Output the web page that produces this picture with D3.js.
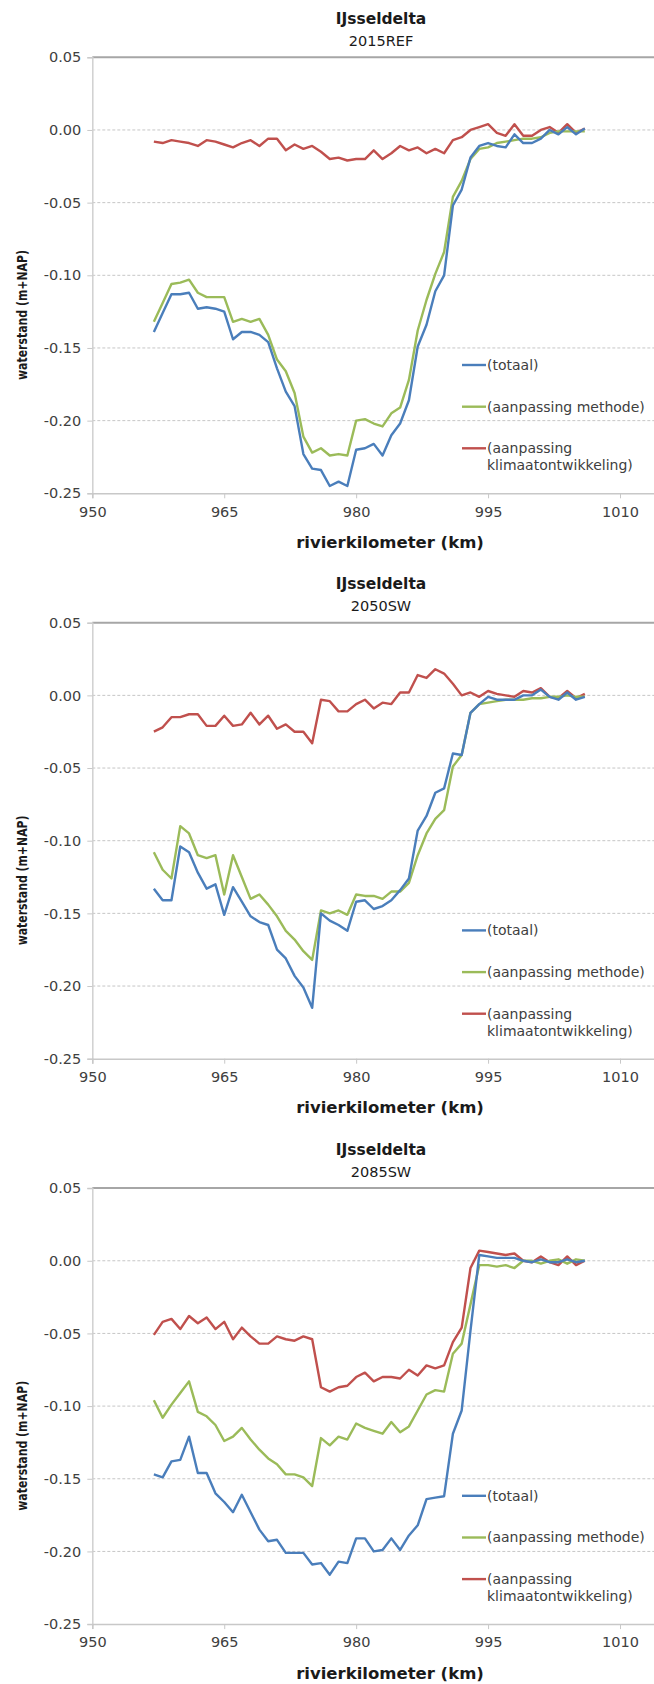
<!DOCTYPE html>
<html>
<head>
<meta charset="utf-8">
<script src="https://cdn.jsdelivr.net/npm/d3@7/dist/d3.min.js"></script>
<style>
  html, body { margin: 0; padding: 0; background: #fff; }
  svg { display: block; font-family: "DejaVu Sans", Verdana, sans-serif; }
</style>
</head>
<body>
<svg id="chart" width="654" height="1684"></svg>
<script>
// River kilometres of the computation points
const km = [957, 958, 959, 960, 961, 962, 963, 964, 965, 966,
            967, 968, 969, 970, 971, 972, 973, 974, 975, 976,
            977, 978, 979, 980, 981, 982, 983, 984, 985, 986,
            987, 988, 989, 990, 991, 992, 993, 994, 995, 996,
            997, 998, 999, 1000, 1001, 1002, 1003, 1004, 1005, 1006];

// 2015REF
const totaal2015 = [-0.139, -0.126, -0.113, -0.113, -0.112, -0.123, -0.122, -0.123, -0.125, -0.144,
                    -0.139, -0.139, -0.141, -0.146, -0.164, -0.180, -0.190, -0.223, -0.233, -0.234,
                    -0.245, -0.242, -0.245, -0.220, -0.219, -0.216, -0.224, -0.210, -0.202, -0.186,
                    -0.149, -0.134, -0.111, -0.100, -0.052, -0.041, -0.019, -0.011, -0.009, -0.011,
                    -0.012, -0.003, -0.009, -0.009, -0.006, 0.000, -0.003, 0.002, -0.003, 0.001];
const methode2015 = [-0.132, -0.119, -0.106, -0.105, -0.103, -0.112, -0.115, -0.115, -0.115, -0.132,
                     -0.130, -0.132, -0.130, -0.141, -0.158, -0.166, -0.181, -0.211, -0.222, -0.219,
                     -0.224, -0.223, -0.224, -0.200, -0.199, -0.202, -0.204, -0.195, -0.191, -0.172,
                     -0.138, -0.117, -0.099, -0.084, -0.046, -0.035, -0.020, -0.013, -0.012, -0.009,
                     -0.008, -0.007, -0.006, -0.006, -0.005, -0.002, -0.001, -0.001, -0.001, -0.001];
const klimaat2015 = [-0.008, -0.009, -0.007, -0.008, -0.009, -0.011, -0.007, -0.008, -0.010, -0.012,
                     -0.009, -0.007, -0.011, -0.006, -0.006, -0.014, -0.010, -0.013, -0.011, -0.015,
                     -0.020, -0.019, -0.021, -0.020, -0.020, -0.014, -0.020, -0.016, -0.011, -0.014,
                     -0.012, -0.016, -0.013, -0.016, -0.007, -0.005, 0.000, 0.002, 0.004, -0.002,
                     -0.004, 0.004, -0.004, -0.004, 0.000, 0.002, -0.002, 0.004, -0.002, 0.001];

// 2050SW
const totaal2050 = [-0.133, -0.141, -0.141, -0.104, -0.108, -0.122, -0.133, -0.130, -0.151, -0.132,
                    -0.142, -0.152, -0.156, -0.158, -0.175, -0.181, -0.193, -0.201, -0.215, -0.150,
                    -0.155, -0.158, -0.162, -0.142, -0.141, -0.147, -0.145, -0.141, -0.134, -0.126,
                    -0.093, -0.083, -0.067, -0.064, -0.040, -0.041, -0.012, -0.006, -0.001, -0.003,
                    -0.003, -0.003, 0.000, 0.000, 0.004, -0.001, -0.003, 0.002, -0.003, -0.001];
const methode2050 = [-0.108, -0.120, -0.126, -0.090, -0.095, -0.110, -0.112, -0.110, -0.137, -0.110,
                     -0.125, -0.140, -0.137, -0.144, -0.152, -0.162, -0.168, -0.176, -0.182, -0.148,
                     -0.150, -0.148, -0.151, -0.137, -0.138, -0.138, -0.140, -0.135, -0.135, -0.129,
                     -0.110, -0.095, -0.085, -0.079, -0.049, -0.041, -0.012, -0.006, -0.005, -0.004,
                     -0.003, -0.003, -0.003, -0.002, -0.002, -0.001, -0.001, 0.000, -0.001, -0.001];
const klimaat2050 = [-0.025, -0.022, -0.015, -0.015, -0.013, -0.013, -0.021, -0.021, -0.014, -0.021,
                     -0.020, -0.012, -0.020, -0.014, -0.023, -0.020, -0.025, -0.025, -0.033, -0.003,
                     -0.004, -0.011, -0.011, -0.006, -0.003, -0.009, -0.005, -0.006, 0.002, 0.002,
                     0.014, 0.012, 0.018, 0.015, 0.008, 0.000, 0.002, -0.001, 0.003, 0.001,
                     0.000, -0.001, 0.003, 0.002, 0.005, -0.001, -0.002, 0.003, -0.002, 0.001];

// 2085SW
const totaal2085 = [-0.147, -0.149, -0.138, -0.137, -0.121, -0.146, -0.146, -0.160, -0.166, -0.173,
                    -0.161, -0.173, -0.185, -0.193, -0.192, -0.201, -0.201, -0.201, -0.209, -0.208,
                    -0.216, -0.207, -0.208, -0.191, -0.191, -0.200, -0.199, -0.191, -0.199, -0.189,
                    -0.182, -0.164, -0.163, -0.162, -0.119, -0.103, -0.048, 0.004, 0.003, 0.002,
                    0.002, 0.002, 0.000, -0.001, 0.001, -0.001, -0.001, 0.001, -0.001, 0.000];
const methode2085 = [-0.096, -0.108, -0.099, -0.091, -0.083, -0.104, -0.107, -0.113, -0.124, -0.121,
                     -0.115, -0.123, -0.130, -0.136, -0.140, -0.147, -0.147, -0.149, -0.155, -0.122,
                     -0.127, -0.121, -0.123, -0.112, -0.115, -0.117, -0.119, -0.111, -0.118, -0.114,
                     -0.103, -0.092, -0.089, -0.090, -0.064, -0.057, -0.030, -0.003, -0.003, -0.004,
                     -0.003, -0.005, 0.000, 0.000, -0.002, 0.000, 0.001, -0.002, 0.001, 0.000];
const klimaat2085 = [-0.051, -0.042, -0.040, -0.047, -0.038, -0.043, -0.039, -0.047, -0.042, -0.054,
                     -0.046, -0.052, -0.057, -0.057, -0.052, -0.054, -0.055, -0.052, -0.054, -0.087,
                     -0.090, -0.087, -0.086, -0.080, -0.077, -0.083, -0.080, -0.080, -0.081, -0.075,
                     -0.079, -0.072, -0.074, -0.072, -0.056, -0.046, -0.005, 0.007, 0.006, 0.005,
                     0.004, 0.005, 0.000, -0.001, 0.003, -0.001, -0.003, 0.003, -0.003, 0.000];

const scenarios = ["2015REF", "2050SW", "2085SW"];
const seriesNames = ["(totaal)", "(aanpassing methode)", "(aanpassing klimaatontwikkeling)"];
const seriesColors = ["#4a7ebb", "#9bbb59", "#c0504d"];
const panelSeries = [
  [totaal2015, methode2015, klimaat2015],
  [totaal2050, methode2050, klimaat2050],
  [totaal2085, methode2085, klimaat2085]
];

const xTicks = [950, 965, 980, 995, 1010];
const yTicks = [0.05, 0.00, -0.05, -0.10, -0.15, -0.20, -0.25];
const yTickLabels = ["0.05", "0.00", "-0.05", "-0.10", "-0.15", "-0.20", "-0.25"];

const chartTitle = "IJsseldelta";
const xTitle = "rivierkilometer (km)";
const yTitle = "waterstand (m+NAP)";

// Layout
const panelStep = 565.4;
const plotLeft = 92.3, plotTop = 57.3, plotBottom = 493.3;
const pxPerKm = 8.795;

// The axis runs on past the right edge of the page (to 1025 km)
const x = d3.scaleLinear().domain([950, 1025]).range([plotLeft, plotLeft + 75 * pxPerKm]);
const y = d3.scaleLinear().domain([-0.25, 0.05]).range([plotBottom, plotTop]);

const svg = d3.select("#chart");
svg.append("rect").attr("width", 654).attr("height", 1684).attr("fill", "#fff");

const line = d3.line()
  .x((d, i) => x(km[i]))
  .y(d => y(d));

scenarios.forEach((scen, p) => {
  const g = svg.append("g").attr("transform", `translate(0,${p * panelStep})`);

  // Titles
  g.append("text")
    .attr("x", 381).attr("y", 24)
    .attr("text-anchor", "middle")
    .attr("font-size", 15.5).attr("font-weight", "bold")
    .attr("fill", "#1a1a1a")
    .text(chartTitle);
  g.append("text")
    .attr("x", 381).attr("y", 46)
    .attr("text-anchor", "middle")
    .attr("font-size", 14.5)
    .attr("fill", "#1a1a1a")
    .text(scen);

  // Horizontal gridlines (dashed), top border solid
  g.append("g").selectAll("line")
    .data(yTicks.filter(v => v !== 0.05 && v !== -0.25))
    .join("line")
    .attr("x1", plotLeft).attr("x2", 654)
    .attr("y1", d => y(d)).attr("y2", d => y(d))
    .attr("stroke", "#c6c6c6").attr("stroke-width", 1)
    .attr("stroke-dasharray", "3,2");
  g.append("line")
    .attr("x1", plotLeft).attr("x2", 654)
    .attr("y1", y(0.05)).attr("y2", y(0.05))
    .attr("stroke", "#a6a6a6").attr("stroke-width", 2);

  // Y axis
  const yAxis = d3.axisLeft(y)
    .tickValues(yTicks)
    .tickFormat((d, i) => yTickLabels[i])
    .tickSize(5)
    .tickPadding(6);
  const ya = g.append("g").attr("transform", `translate(${plotLeft},0)`).call(yAxis);
  ya.select(".domain").attr("stroke", "#d0d0d0").attr("stroke-width", 1.5);
  ya.selectAll(".tick line").attr("stroke", "#c8c8c8");
  ya.selectAll(".tick text")
    .attr("font-size", 14.5).attr("fill", "#404040")
    .attr("font-family", "DejaVu Sans, Verdana, sans-serif");

  // X axis
  const xAxis = d3.axisBottom(x)
    .tickValues(xTicks)
    .tickFormat(d3.format("d"))
    .tickSize(5)
    .tickPadding(8);
  const xa = g.append("g").attr("transform", `translate(0,${plotBottom})`).call(xAxis);
  xa.select(".domain").attr("stroke", "#c8c8c8").attr("stroke-width", 1.5);
  xa.selectAll(".tick line").attr("stroke", "#c8c8c8");
  xa.selectAll(".tick text")
    .attr("font-size", 14.5).attr("fill", "#404040")
    .attr("font-family", "DejaVu Sans, Verdana, sans-serif");

  // Axis titles
  g.append("text")
    .attr("x", 390).attr("y", 548)
    .attr("text-anchor", "middle")
    .attr("font-size", 16.5).attr("font-weight", "bold")
    .attr("fill", "#1a1a1a")
    .text(xTitle);

  // Vertical title: narrow bold type squeezed along its length to 130 px
  const yt = g.append("text")
    .attr("text-anchor", "middle")
    .attr("font-size", 14).attr("font-weight", "bold")
    .attr("fill", "#1a1a1a")
    .text(yTitle);
  const natural = yt.node().getComputedTextLength() || 166;
  yt.attr("transform", `translate(27,315) rotate(-90) scale(${130 / natural},1)`);

  // Series lines (klimaat drawn first, totaal last on top)
  const order = [2, 1, 0];
  order.forEach(s => {
    g.append("path")
      .datum(panelSeries[p][s])
      .attr("d", line)
      .attr("fill", "none")
      .attr("stroke", seriesColors[s])
      .attr("stroke-width", 2.4)
      .attr("stroke-linejoin", "round");
  });

  // Legend
  const legendRows = [365, 406.7, 448.3];
  const lg = g.append("g");
  seriesNames.forEach((name, s) => {
    const ly = legendRows[s];
    lg.append("line")
      .attr("x1", 462).attr("x2", 486)
      .attr("y1", ly).attr("y2", ly)
      .attr("stroke", seriesColors[s]).attr("stroke-width", 2.4);
    const t = lg.append("text")
      .attr("x", 487).attr("y", ly + 5)
      .attr("font-size", 14).attr("fill", "#404040");
    if (s === 2) {
      t.append("tspan").attr("x", 487).attr("dy", 0).text("(aanpassing");
      t.append("tspan").attr("x", 487).attr("dy", 17).text("klimaatontwikkeling)");
    } else {
      t.text(name);
    }
  });
});
</script>
</body>
</html>
